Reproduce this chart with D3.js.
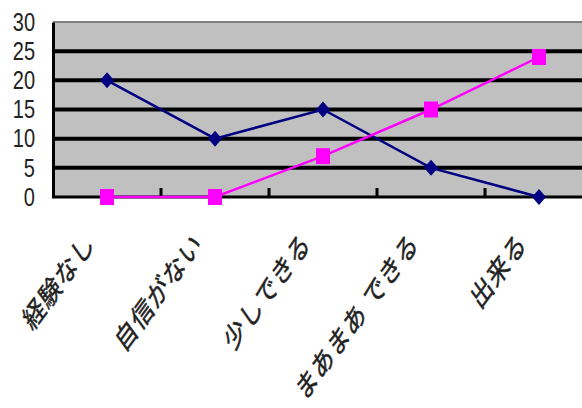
<!DOCTYPE html>
<html>
<head>
<meta charset="utf-8">
<script src="https://cdn.jsdelivr.net/npm/d3@7"></script>
<style>
  html, body { margin: 0; padding: 0; background: #fff; }
  svg { display: block; }
</style>
</head>
<body>
<svg id="chart" width="582" height="408"></svg>
<script>
// Self-rated skill level: category labels and the two series
const categories = ["経験なし", "自信がない", "少しできる", "まあまあ できる", "出来る"];
const seriesNavy = [20, 10, 15, 5, 0];
const seriesMagenta = [0, 0, 7, 15, 24];
const yTicks = [0, 5, 10, 15, 20, 25, 30];

const plot = { left: 53, top: 22, bottom: 197, right: 593 };

const svg = d3.select("#chart");

const x = d3.scaleBand()
  .domain(categories)
  .range([plot.left, plot.right])
  .padding(0);

const y = d3.scaleLinear()
  .domain([0, 30])
  .range([plot.bottom, plot.top]);

const cx = d => x(d) + x.bandwidth() / 2;

// plot area background
svg.append("rect")
  .attr("x", plot.left)
  .attr("y", y(30))
  .attr("width", plot.right - plot.left)
  .attr("height", y(0) - y(30))
  .attr("fill", "#c0c0c0");

// top border of the plot area
svg.append("line")
  .attr("x1", plot.left).attr("x2", plot.right)
  .attr("y1", y(30)).attr("y2", y(30))
  .attr("stroke", "#808080").attr("stroke-width", 2);

// horizontal gridlines
svg.append("g")
  .selectAll("line")
  .data(yTicks.filter(v => v > 0 && v < 30))
  .join("line")
  .attr("x1", plot.left).attr("x2", plot.right)
  .attr("y1", d => y(d)).attr("y2", d => y(d))
  .attr("stroke", "#000").attr("stroke-width", 4);

// y axis with tick labels
const yAxis = d3.axisLeft(y).tickValues(yTicks).tickSize(0).tickPadding(0);
const gy = svg.append("g")
  .attr("transform", `translate(${plot.left},0)`)
  .call(yAxis);
gy.select(".domain")
  .attr("stroke", "#000").attr("stroke-width", 3);
gy.selectAll(".tick text")
  .attr("x", 0).attr("dy", null)
  .attr("text-anchor", "end")
  .attr("dominant-baseline", "central")
  .attr("transform", "translate(-18,0) scale(1,1.25)")
  .attr("font-family", "'Liberation Sans', Arial, sans-serif")
  .attr("font-size", 20)
  .attr("fill", "#222");

// x axis: baseline and ticks between categories
const boundaries = categories.slice(1).map(c => x(c));
svg.append("line")
  .attr("x1", plot.left - 1).attr("x2", plot.right)
  .attr("y1", y(0)).attr("y2", y(0))
  .attr("stroke", "#000").attr("stroke-width", 3);
svg.append("g")
  .selectAll("line")
  .data(boundaries)
  .join("line")
  .attr("x1", d => d).attr("x2", d => d)
  .attr("y1", y(0)).attr("y2", y(0) - 9)
  .attr("stroke", "#000").attr("stroke-width", 3);

// slanted category labels (45° text, stretched vertically)
svg.append("g")
  .selectAll("text")
  .data(categories)
  .join("text")
  .attr("transform", d => `translate(${cx(d) - 18},236) scale(1,1.36) rotate(-45)`)
  .attr("text-anchor", "end")
  .attr("dominant-baseline", "central")
  .attr("font-family", "'Noto Sans CJK JP', sans-serif")
  .attr("font-size", 21.5)
  .attr("letter-spacing", 1)
  .attr("fill", "#222")
  .attr("stroke", "#222")
  .attr("stroke-width", 0.4)
  .text(d => d);

const line = d3.line()
  .x((d, i) => cx(categories[i]))
  .y(d => y(d));

// navy series with diamond markers
svg.append("path")
  .datum(seriesNavy)
  .attr("d", line)
  .attr("fill", "none")
  .attr("stroke", "#000080")
  .attr("stroke-width", 2.5);
svg.append("g")
  .selectAll("path")
  .data(seriesNavy)
  .join("path")
  .attr("d", "M0,-8L7,0L0,8L-7,0Z")
  .attr("transform", (d, i) => `translate(${cx(categories[i])},${y(d)})`)
  .attr("fill", "#000080");

// magenta series with square markers
svg.append("path")
  .datum(seriesMagenta)
  .attr("d", line)
  .attr("fill", "none")
  .attr("stroke", "#ff00ff")
  .attr("stroke-width", 2.5);
svg.append("g")
  .selectAll("rect")
  .data(seriesMagenta)
  .join("rect")
  .attr("x", (d, i) => cx(categories[i]) - 7)
  .attr("y", d => y(d) - 8)
  .attr("width", 14)
  .attr("height", 16)
  .attr("fill", "#ff00ff");
</script>
</body>
</html>
